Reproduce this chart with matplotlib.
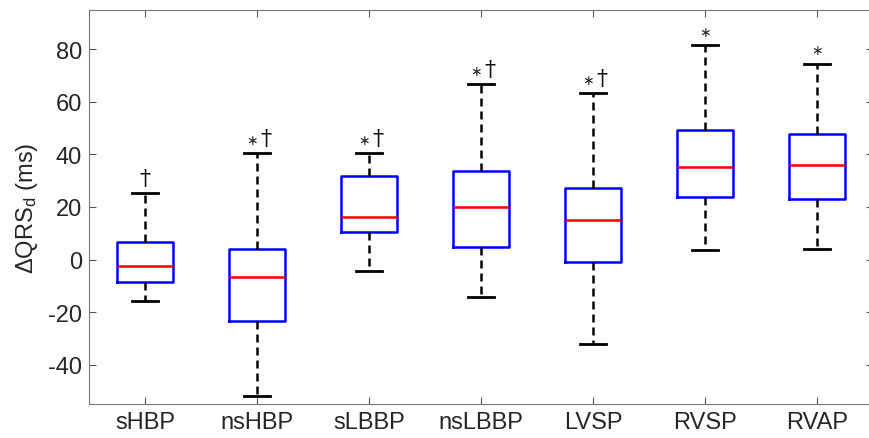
import matplotlib
matplotlib.use("Agg")
import matplotlib.pyplot as plt

plt.rcParams['font.family'] = ['Liberation Sans', 'DejaVu Sans']
plt.rcParams['mathtext.fontset'] = 'custom'
plt.rcParams['mathtext.rm'] = 'Liberation Sans'
plt.rcParams['mathtext.it'] = 'Liberation Sans'
plt.rcParams['axes.unicode_minus'] = False

# --- Dados ---
grupos = ["sHBP", "nsHBP", "sLBBP", "nsLBBP", "LVSP", "RVSP", "RVAP"]
whisker_sup = [25.4, 40.4, 40.6, 66.7, 63.5, 81.6, 74.6]
q3 = [6.5, 4.0, 31.9, 33.8, 27.1, 49.2, 47.9]
mediana = [-2.4, -6.5, 16.2, 20.0, 15.0, 35.4, 35.9]
q1 = [-8.5, -23.3, 10.4, 4.6, -0.8, 23.8, 23.0]
whisker_inf = [-15.7, -51.9, -4.3, -14.3, -32.3, 3.7, 4.0]
# significância: * e †
tem_asterisco = [False, True, True, True, True, True, True]
tem_adaga = [True, True, True, True, True, False, False]

stats = []
for i, g in enumerate(grupos):
    stats.append({
        "label": g, "med": mediana[i], "q1": q1[i], "q3": q3[i],
        "whislo": whisker_inf[i], "whishi": whisker_sup[i], "fliers": [],
    })

fig = plt.figure(figsize=(8.69, 4.39), dpi=100)
ax = fig.add_axes([89 / 869, 34 / 439, 784 / 869, 394 / 439])

pos = list(range(1, len(grupos) + 1))
ax.bxp(
    stats, positions=pos, widths=0.5, showfliers=False,
    boxprops=dict(color="#0000ff", linewidth=1.8),
    medianprops=dict(color="#ff0000", linewidth=1.8),
    whiskerprops=dict(color="black", linewidth=1.8, linestyle=(0, (3.2, 2.0))),
    capprops=dict(color="black", linewidth=2.0),
    capwidths=0.24,
)

# Marcas de significância
for i in range(len(grupos)):
    dx_ast, dx_adaga = 0, 0
    if tem_asterisco[i] and tem_adaga[i]:
        dx_ast, dx_adaga = -3.5, 6.5
    if tem_asterisco[i]:
        ax.annotate("\u2217", (pos[i], whisker_sup[i]), xytext=(dx_ast, 9.5),
                    textcoords="offset points", ha="center", va="center",
                    fontsize=10, color="#222222", family=["DejaVu Sans"])
    if tem_adaga[i]:
        ax.annotate("\u2020", (pos[i], whisker_sup[i]), xytext=(dx_adaga, 3),
                    textcoords="offset points", ha="center", va="bottom",
                    fontsize=16, color="#111111", family=["DejaVu Serif"])

ax.set_xlim(0.5, len(grupos) + 0.5)
ax.set_ylim(-55, 95)
ax.set_yticks([-40, -20, 0, 20, 40, 60, 80])
ax.set_xticks(pos)
ax.set_xticklabels(grupos)
ax.set_ylabel(r"$\Delta$QRS$_\mathrm{d}$ (ms)", fontsize=17, color="#262626", labelpad=6)

ax.tick_params(direction="in", length=5, width=0.8, color="#555555",
               labelsize=17, labelcolor="#262626", top=True, right=True, pad=5)
for s in ax.spines.values():
    s.set_color("#777777")
    s.set_linewidth(0.8)

fig.savefig("out.png", dpi=100)
